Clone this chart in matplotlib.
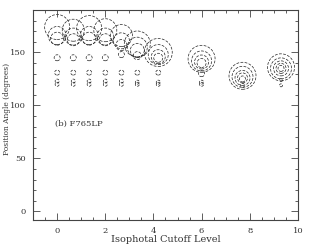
import numpy as np
import matplotlib
matplotlib.use("Agg")
import matplotlib.pyplot as plt
from matplotlib.ticker import MultipleLocator

# isophotal cutoff level of each column of ellipses
levels = [0, 0.67, 1.33, 2.0, 2.67, 3.33, 4.2, 6.0, 7.7, 9.3]

# position angles (degrees) and ellipse sizes (pixels) per column
angles = [
    [174, 166, 163, 145, 131, 123, 120],
    [171, 165, 162, 145, 131, 123, 120],
    [173, 166, 163, 145, 131, 123, 120],
    [171, 165, 162, 145, 131, 123, 120],
    [166, 161, 157, 148, 131, 123, 120],
    [158, 155, 152, 147, 131, 122, 120],
    [150, 148, 146, 145, 131, 122, 120],
    [144, 142, 141, 140, 130, 122, 120],
    [128, 127, 126, 126, 125, 119],
    [136, 135, 135, 135, 135, 124, 119],
]
sizes = [
    [25, 18, 13, 6, 5, 4, 4],
    [22, 17, 12, 6, 5, 4, 4],
    [25, 18, 13, 6, 5, 4, 4],
    [23, 17, 12, 6, 5, 4, 4],
    [22, 16, 11, 6, 5, 4, 4],
    [26, 20, 14, 8, 5, 4, 4],
    [28, 20, 14, 9, 5, 4, 4],
    [27, 20, 14, 9, 6, 4, 4],
    [27, 21, 15, 10, 6, 4],
    [27, 21, 15, 10, 6, 3, 3],
]

fig = plt.figure(figsize=(3.09, 2.46), dpi=100)
ax = fig.add_axes([0.107, 0.106, 0.857, 0.853])

for lev, ang, sz in zip(levels, angles, sizes):
    d = np.array(sz) * 0.72  # px -> points
    ax.scatter([lev] * len(ang), ang, s=d ** 2, facecolors="none",
               edgecolors="#222222", linewidths=0.5,
               linestyles=[(0, (4, 2))])

ax.set_xlim(-1, 10)
ax.set_ylim(-8, 190)
ax.xaxis.set_major_locator(MultipleLocator(2))
ax.xaxis.set_minor_locator(MultipleLocator(0.5))
ax.yaxis.set_major_locator(MultipleLocator(50))
ax.yaxis.set_minor_locator(MultipleLocator(10))
ax.tick_params(which="both", direction="in", top=True, right=True,
               width=0.6, color="#444444", labelsize=6, pad=5,
               labelcolor="#333333")
ax.tick_params(which="major", length=5)
ax.tick_params(which="minor", length=2.5)
for lab in ax.get_xticklabels() + ax.get_yticklabels():
    lab.set_family("DejaVu Serif")
for sp in ax.spines.values():
    sp.set_linewidth(0.8)
    sp.set_color("#444444")

ax.set_xlabel("Isophotal Cutoff Level", family="DejaVu Serif", fontsize=7,
              labelpad=0, color="#333333")
ax.set_ylabel("Position Angle (degrees)", family="DejaVu Serif", fontsize=5.4,
              labelpad=4, color="#333333")
ax.yaxis.set_label_coords(-0.085, 0.53)
ax.text(-0.1, 83, "(b) F765LP", family="DejaVu Serif", fontsize=6,
        va="center", ha="left", color="#333333")

fig.savefig("out.png", dpi=100)
